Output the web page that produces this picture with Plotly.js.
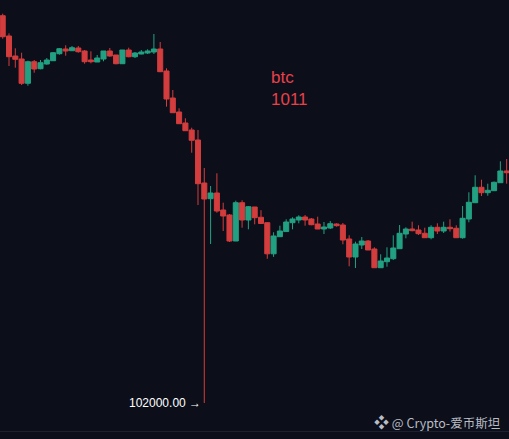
<!DOCTYPE html>
<html>
<head>
<meta charset="utf-8">
<script src="https://cdn.plot.ly/plotly-3.0.1.min.js"></script>
<style>
  html, body { margin: 0; padding: 0; background: #0c0f1a; }
  #chart { width: 509px; height: 439px; }
</style>
</head>
<body>
<div id="chart"></div>
<script>
// BTC candles (index order, left to right)
const openPrices = [
  123301, 122185, 121085, 120920, 119583, 120771, 120386, 120645, 120826, 121211,
  121470, 121376, 121525, 121360, 120865, 120755, 120920, 121360, 121140, 120661,
  121415, 121046, 121195, 121250, 121305, 121470, 120260, 118775, 118005, 117400,
  117015, 116465, 114100, 113237, 113550, 112615, 112340, 110910, 113017, 112065,
  112780, 112214, 111917, 110206, 111147, 111429, 111917, 112065, 112230, 112120,
  111845, 111570, 111625, 111845, 111790, 111020, 110030, 110690, 110910, 110470,
  109441, 109772, 109937, 110487, 111295, 111570, 111515, 111334, 111092, 111664,
  111460, 111664, 111609, 111092, 112120, 113017, 113864, 113567, 113677, 114117,
  114760
];
const highPrices = [
  123411, 122333, 121508, 121266, 120826, 120865, 120865, 120975, 121305, 121525,
  121673, 121635, 121635, 121415, 121343, 121140, 121360, 121525, 121140, 121415,
  121541, 121305, 121415, 121453, 122295, 121855, 120408, 119215, 118209, 117659,
  117142, 117015, 114925, 113935, 114634, 113017, 112395, 113127, 113149, 112835,
  112780, 112604, 111939, 111389, 111752, 112104, 112214, 112324, 112340, 112175,
  112247, 111955, 112010, 111884, 111900, 111224, 110872, 111130, 110965, 110564,
  110178, 110564, 111224, 111790, 111664, 111972, 111774, 111642, 111774, 111884,
  111972, 112104, 111774, 112835, 113589, 114523, 114282, 114062, 114180, 115293,
  115420
];
const lowPrices = [
  122036, 120535, 120441, 119490, 119451, 120166, 120353, 120606, 120810, 121156,
  121101, 121360, 121266, 120661, 120683, 120755, 120794, 121046, 120628, 120661,
  121013, 120975, 121178, 121195, 121195, 120222, 118297, 117967, 117362, 116977,
  115766, 112890, 102000, 110745, 112467, 111460, 110855, 110910, 111642, 111554,
  111829, 111873, 109932, 110036, 111130, 111405, 111554, 111884, 111752, 111774,
  111570, 111295, 111570, 111697, 110729, 109518, 109425, 110470, 110415, 109441,
  109441, 109497, 109865, 110487, 111059, 111444, 111240, 111092, 111004, 111295,
  111350, 111429, 111092, 111037, 111939, 113017, 113385, 113401, 113677, 114117,
  114062
];
const closePrices = [
  122146, 121046, 120903, 119583, 120771, 120370, 120716, 120865, 121266, 121486,
  121360, 121541, 121321, 120771, 120771, 120975, 121360, 121085, 120661, 121415,
  121046, 121250, 121305, 121360, 121470, 120222, 118720, 117967, 117362, 116977,
  116449, 114062, 113220, 113550, 112560, 112285, 110910, 113017, 112065, 112797,
  112191, 111873, 110206, 111185, 111460, 111955, 112120, 112230, 112065, 111807,
  111570, 111680, 111862, 111752, 110965, 110030, 110745, 110910, 110415, 109441,
  109810, 109975, 110525, 111334, 111570, 111477, 111312, 111092, 111664, 111460,
  111664, 111587, 111092, 112159, 113039, 113864, 113567, 113699, 114139, 114760,
  114666
];
const lowLabel = '102000.00 →';
const lowValue = 102000;
const lowIndex = 32;
const titleLines = ['btc', '1011'];
const watermarkIcon = '❖';
const watermarkText = '@ Crypto-爱币斯坦';

const UP = '#22a182';
const DOWN = '#d33d3d';
const BG = '#0c0f1a';

const trace = {
  type: 'candlestick',
  open: openPrices,
  high: highPrices,
  low: lowPrices,
  close: closePrices,
  increasing: { line: { color: UP, width: 1 }, fillcolor: UP },
  decreasing: { line: { color: DOWN, width: 1 }, fillcolor: DOWN },
  whiskerwidth: 0,
  hoverinfo: 'skip'
};

const layout = {
  width: 509,
  height: 439,
  margin: { l: 0, r: 0, t: 0, b: 8, pad: 0 },
  paper_bgcolor: BG,
  plot_bgcolor: BG,
  showlegend: false,
  boxgap: 0.2,
  boxgroupgap: 0,
  xaxis: {
    range: [-0.43, 80.37],
    rangeslider: { visible: false },
    showgrid: false, zeroline: false, showticklabels: false, ticks: '',
    showline: true, linecolor: '#1c2130', linewidth: 1
  },
  yaxis: {
    range: [100460, 124165],
    showgrid: false, zeroline: false, showticklabels: false, ticks: '',
    showline: false
  },
  annotations: [
    {
      xref: 'paper', yref: 'paper', x: 269 / 509, y: 1 - 66 / 431,
      xanchor: 'left', yanchor: 'top', align: 'left', showarrow: false,
      text: titleLines.join('<br>'),
      font: { family: 'Liberation Sans, Arial, sans-serif', size: 17, color: '#e8414a' }
    },
    {
      xref: 'x', yref: 'y', x: lowIndex, y: lowValue,
      xanchor: 'right', yanchor: 'middle', xshift: -1, showarrow: false,
      text: lowLabel,
      font: { family: 'Liberation Sans, Arial, sans-serif', size: 12, color: '#ffffff' }
    },
    {
      xref: 'paper', yref: 'paper', x: 502 / 509, y: 1 - 421.7 / 431,
      xanchor: 'right', yanchor: 'middle', showarrow: false,
      text: '<span style="font-size:15px">' + watermarkIcon + '</span> ' + watermarkText,
      font: { family: 'Noto Sans CJK SC, Noto Sans, sans-serif', size: 12.5, color: '#b8bcc4' }
    }
  ]
};

Plotly.newPlot('chart', [trace], layout, { displayModeBar: false, staticPlot: true });
</script>
</body>
</html>
